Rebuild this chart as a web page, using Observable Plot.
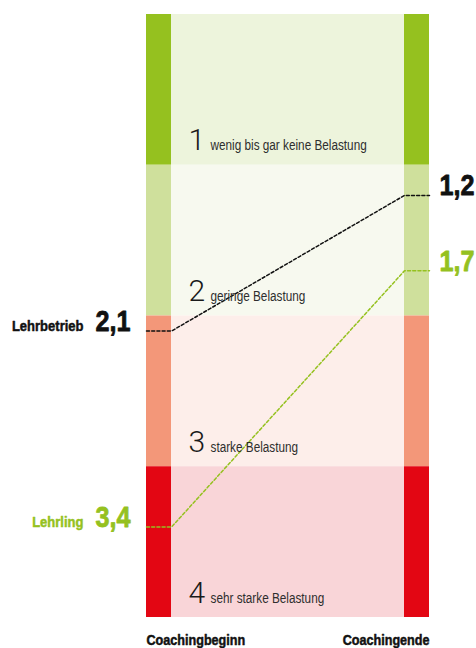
<!DOCTYPE html>
<html>
<head>
<meta charset="utf-8">
<script src="https://cdn.jsdelivr.net/npm/d3@7"></script>
<script src="https://cdn.jsdelivr.net/npm/@observablehq/plot@0.6"></script>
<style>
  html, body { margin: 0; padding: 0; background: #fff; }
  #chart svg { display: block; }
</style>
</head>
<body>
<div id="chart"></div>
<script>
// ---- data ----
const stages = ["Coachingbeginn", "Coachingende"];
const levels = [1, 2, 3, 4];
const levelLabels = ["wenig bis gar keine Belastung", "geringe Belastung", "starke Belastung", "sehr starke Belastung"];
const seriesNames = ["Lehrbetrieb", "Lehrling"];
const beginValues = [2.1, 3.4];
const endValues = [1.2, 1.7];

// ---- styles ----
const barColors = ["#95c11f", "#cfe09c", "#f39779", "#e30613"];
const fieldColors = ["#edf4dc", "#f7f9ef", "#fdeeea", "#f9d5d8"];
const seriesColors = ["#111111", "#95c11f"];
const barW = 25 / 233; // bar width relative to gap between stages
const cond = "'Liberation Sans', Arial, sans-serif"; // condensed afterwards
const condense = 0.84;

const fmt = v => v.toFixed(1).replace(".", ",");

// tables
const bars = [];
stages.forEach((s, i) => levels.forEach((l, j) => bars.push({
  x1: i === 0 ? -barW : 1, x2: i === 0 ? 0 : 1 + barW, y1: l - 1, y2: l, fill: barColors[j]
})));
const fields = levels.map((l, j) => ({y1: l - 1, y2: l, fill: fieldColors[j], label: levelLabels[j], level: l}));
const linePts = [];
seriesNames.forEach((n, k) => {
  [[-barW, beginValues[k]], [0, beginValues[k]], [1, endValues[k]], [1 + barW, endValues[k]]]
    .forEach(([x, y]) => linePts.push({name: n, x, y}));
});
const series = seriesNames.map((n, k) => ({name: n, begin: beginValues[k], end: endValues[k], color: seriesColors[k]}));

const heavy = (w) => ({fontFamily: cond, fontWeight: "bold", stroke: d => d.color || "#111", strokeWidth: w, paintOrder: "stroke"});

const chart = Plot.plot({
  width: 476,
  height: 648,
  marginTop: 14,
  marginBottom: 31,
  marginLeft: 146,
  marginRight: 47,
  x: {domain: [-barW, 1 + barW], axis: null},
  y: {domain: [0, 4], reverse: true, axis: null},
  style: {background: "#fff", overflow: "visible"},
  marks: [
    Plot.rect(fields, {x1: 0, x2: 1, y1: "y1", y2: "y2", fill: d => d.fill}),
    Plot.rect(bars, {x1: "x1", x2: "x2", y1: "y1", y2: "y2", fill: d => d.fill}),
    // lines
    ...series.map(s => Plot.line(linePts.filter(p => p.name === s.name), {x: "x", y: "y", stroke: s.color,
      strokeWidth: 1.5, strokeDasharray: "3,2.2"})),
    // level numbers and labels
    Plot.text(fields, {x: 0, y: "level", text: d => String(d.level), dx: 17, dy: -15, textAnchor: "start", lineAnchor: "bottom",
      fontFamily: "Roboto, 'Open Sans', sans-serif", fontWeight: 300, fontSize: 30, fill: "#1a1a1a"}),
    Plot.text(fields, {x: 0, y: "level", text: "label", dx: 39, dy: -15, textAnchor: "start", lineAnchor: "bottom",
      fontFamily: cond, fontSize: 14, fill: "#2e2e2e"}),
    // left labels
    Plot.text(series, {x: -barW, y: "begin", text: "name", dx: -63, textAnchor: "end", lineAnchor: "bottom",
      ...heavy(0.5), fontSize: 15.5, fill: d => d.color}),
    Plot.text(series, {x: -barW, y: "begin", text: d => fmt(d.begin), dx: -51, textAnchor: "start", lineAnchor: "bottom",
      ...heavy(0.8), fontSize: 30, fill: d => d.color}),
    // right labels
    Plot.text(series, {x: 1 + barW, y: "end", text: d => fmt(d.end), dx: 10, textAnchor: "start", lineAnchor: "bottom",
      ...heavy(0.8), fontSize: 30, fill: d => d.color}),
    // stage labels
    Plot.text([stages[0]], {x: -barW, y: 4, text: d => d, dy: 27, textAnchor: "start", lineAnchor: "bottom",
      ...heavy(0.5), fontSize: 15, fill: "#111"}),
    Plot.text([stages[1]], {x: 1 + barW, y: 4, text: d => d, dy: 27, textAnchor: "end", lineAnchor: "bottom",
      ...heavy(0.5), fontSize: 15, fill: "#111"})
  ]
});
document.getElementById("chart").appendChild(chart);
// condense the Liberation Sans texts horizontally (Helvetica Condensed look)
chart.querySelectorAll("g[font-family]").forEach(g => {
  if (!g.getAttribute("font-family").includes("Liberation Sans")) return;
  g.querySelectorAll("text").forEach(t => {
    const len = t.getComputedTextLength();
    t.setAttribute("textLength", (len * condense).toFixed(2));
    t.setAttribute("lengthAdjust", "spacingAndGlyphs");
  });
});
</script>
</body>
</html>
